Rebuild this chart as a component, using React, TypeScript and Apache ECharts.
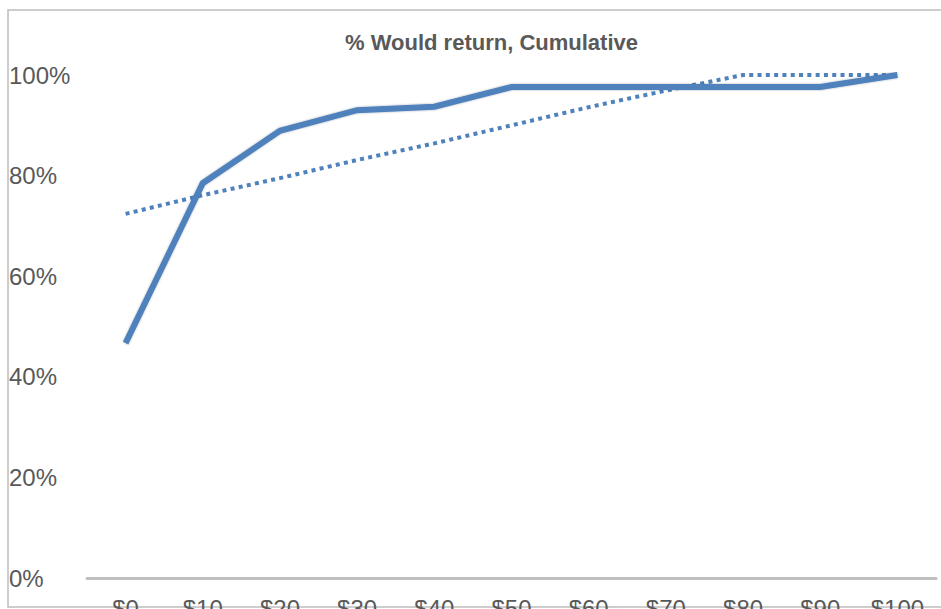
import React, { useEffect, useRef } from "react";
import * as echarts from "echarts";

// Price points along the horizontal axis
const categories = ["$0", "$10", "$20", "$30", "$40", "$50", "$60", "$70", "$80", "$90", "$100"];

// Share of respondents who would return at each price (cumulative, %)
const wouldReturn = [46.7, 78.5, 88.9, 93.0, 93.7, 97.6, 97.6, 97.6, 97.6, 97.6, 100];

// Dotted trend series (%)
const trend = [72.4, 76.1, 79.5, 83.1, 86.4, 90.0, 93.6, 96.9, 100, 100, 100];

// Value axis ticks
const yMin = 0;
const yMax = 100;
const yStep = 20;

const TITLE = "% Would return, Cumulative";
const FONT = '"Liberation Sans", Arial, sans-serif';
const BLUE = "#4F81BD";
const GREY_TEXT = "#595959";

export default function App() {
  const ref = useRef<HTMLDivElement>(null);

  useEffect(() => {
    if (!ref.current) return;
    const chart = echarts.init(ref.current, undefined, { renderer: "svg" });
    chart.setOption({
      animation: false,
      backgroundColor: "#ffffff",
      textStyle: { fontFamily: FONT },
      graphic: [
        {
          type: "rect",
          z: -1,
          shape: { x: 8, y: 10, width: 1000, height: 597 },
          style: { fill: "none", stroke: "#BDBDBD", lineWidth: 1.5 },
          silent: true,
        },
        {
          type: "text",
          x: 491.5,
          y: 42,
          style: {
            text: TITLE,
            fill: GREY_TEXT,
            font: `bold 22px ${FONT}`,
            align: "center",
            verticalAlign: "middle",
          },
          silent: true,
        },
      ],
      grid: {
        left: 87,
        right: 5,
        top: 75,
        bottom: 31,
        containLabel: false,
        outerBoundsMode: "none",
      },
      xAxis: {
        type: "category",
        data: categories,
        boundaryGap: true,
        axisLine: { show: true, lineStyle: { color: "#BFBFBF", width: 3 } },
        axisTick: { show: false },
        splitLine: { show: false },
        axisLabel: {
          color: GREY_TEXT,
          fontSize: 24,
          fontFamily: FONT,
          margin: 18,
          interval: 0,
        },
      },
      yAxis: {
        type: "value",
        min: yMin,
        max: yMax,
        interval: yStep,
        axisLine: { show: false },
        axisTick: { show: false },
        splitLine: { show: false },
        axisLabel: {
          color: GREY_TEXT,
          fontSize: 24,
          fontFamily: FONT,
          align: "left",
          margin: 78,
          formatter: "{value}%",
        },
      },
      series: [
        {
          name: "Trend",
          type: "line",
          data: trend,
          symbol: "none",
          z: 2,
          lineStyle: { color: BLUE, width: 4, type: [4, 4.3], cap: "butt" },
        },
        {
          name: "% Would return",
          type: "line",
          data: wouldReturn,
          symbol: "none",
          z: 3,
          lineStyle: {
            color: BLUE,
            width: 6,
            cap: "butt",
            join: "miter",
            shadowColor: "rgba(0,0,0,0.3)",
            shadowBlur: 2,
          },
        },
      ],
    });
    return () => chart.dispose();
  }, []);

  return (
    <div
      ref={ref}
      style={{ position: "absolute", left: 0, top: 0, width: 941, height: 609 }}
    />
  );
}
